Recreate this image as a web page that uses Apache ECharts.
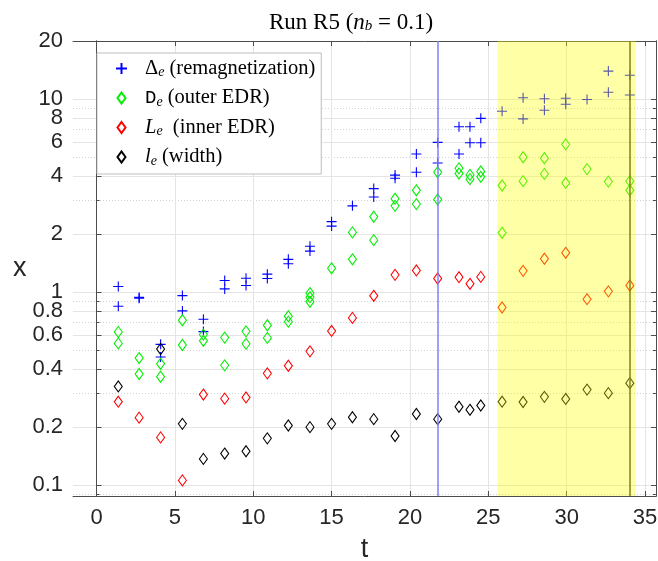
<!DOCTYPE html>
<html>
<head>
<meta charset="utf-8">
<title>Run R5</title>
<script src="https://cdn.jsdelivr.net/npm/echarts@6/dist/echarts.min.js"></script>
<style>
  html, body { margin: 0; padding: 0; background: #fff; }
  #main { width: 658px; height: 561px; }
</style>
</head>
<body>
<div id="main"></div>
<script>
// snapshot times
var times = [1.39, 2.72, 4.09, 5.48, 6.82, 8.18, 9.54, 10.9, 12.24, 13.62, 15.0, 16.33, 17.69,
  19.05, 20.41, 21.77, 23.13, 23.83, 24.52, 25.88, 27.22, 28.58, 29.94, 31.3, 32.66, 34.03];

// Delta_e (remagnetization), two estimates per snapshot
var deltaHi = [1.07, 0.94, 0.537, 0.96, 0.724, 1.15, 1.18, 1.24, 1.48, 1.73, 2.32, 2.8, 3.44,
  4.04, 5.2, 5.97, 7.19, 7.19, 7.95, 8.66, 10.17, 10.05, 10.1, 9.95, 13.97, 13.3];
var deltaLo = [0.846, 0.93, 0.462, 0.80, 0.625, 1.04, 1.083, 1.178, 1.405, 1.633, 2.2, null, 3.11,
  3.89, 4.18, 4.67, 5.2, 5.94, 5.94, null, 7.9, 8.76, 9.4, null, 10.85, 10.5];

// D_e (outer EDR)
var outerHi = [0.623, 0.456, 0.426, 0.716, 0.603, 0.582, 0.627, 0.674, 0.751, 0.99, 1.33, 2.04, 2.46,
  3.05, 3.37, 4.18, 4.38, 4.05, 4.22, 3.57, 5.0, 4.94, 5.83, 4.34, 3.74, 3.76];
var outerLo = [0.543, 0.377, 0.365, 0.533, 0.56, 0.418, 0.54, 0.58, 0.704, 0.892, null, 1.48, 1.86,
  2.8, 2.86, 3.02, 4.12, 3.85, 3.96, 2.03, 3.76, 4.1, 3.68, null, null, 3.37];
var outerMid = [null, null, null, null, null, null, null, null, null, 0.942, null, null, null,
  null, null, null, null, null, null, null, null, null, null, null, null, null];

// L_e (inner EDR)
var inner = [0.271, 0.224, 0.177, 0.106, 0.295, 0.281, 0.285, 0.38, 0.416, 0.494, 0.63, 0.736, 0.958,
  1.23, 1.296, 1.178, 1.196, 1.105, 1.2, 0.833, 1.29, 1.49, 1.6, 0.92, 1.01, 1.083];

// l_e (width)
var width = [0.325, null, 0.508, 0.208, 0.137, 0.146, 0.15, 0.175, 0.204, 0.2, 0.208, 0.225, 0.22,
  0.18, 0.234, 0.22, 0.255, 0.246, 0.259, 0.271, 0.27, 0.287, 0.28, 0.313, 0.3, 0.338];

// events: blue marker line, shaded interval, end line
var blueLineT = 21.77;
var endLineT = 34.03;
var bandT = [25.58, 34.41];

var xTicks = [0, 5, 10, 15, 20, 25, 30, 35];
var yMajor = [0.1, 0.2, 0.4, 0.6, 0.8, 1, 2, 4, 6, 8, 10, 20];
var yMinor = [0.09, 0.3, 0.5, 0.7, 0.9, 3, 5, 7, 9];

var legendText = {
  delta: '{g|\u0394}{s|e}{t| (remagnetization)}',
  outer: '{m|D}{s|e}{t| (outer EDR)}',
  inner: '{i|L}{s|e}{t|  (inner EDR)}',
  width: '{i|l}{s|e}{t| (width)}'
};

var X_MIN = -1.5, X_MAX = 35.7, Y_MIN = 0.088, Y_MAX = 20;
var CROSS = 'path://M5,0L5,10M0,5L10,5';
var DIAMOND = 'path://M4,0L8,5.5L4,11L0,5.5Z';
var SANS = 'Liberation Sans';
var SERIF = 'Liberation Serif';
var AXIS_COLOR = '#4d4d4d';

function pts (vals) {
  var out = [];
  for (var i = 0; i < times.length; i++) {
    if (vals[i] != null) out.push([times[i], vals[i]]);
  }
  return out;
}

function scatter (name, vals, symbol, color) {
  return {
    name: name,
    type: 'scatter',
    data: pts(vals),
    symbol: symbol,
    symbolSize: symbol === CROSS ? 10 : [8, 11],
    itemStyle: { color: 'rgba(0,0,0,0)', borderColor: color, borderWidth: 1.1, opacity: 1 },
    emphasis: { disabled: true },
    silent: true
  };
}

var series = [
  scatter('delta', deltaHi, CROSS, '#0000ff'),
  scatter('delta', deltaLo, CROSS, '#0000ff'),
  scatter('outer', outerHi, DIAMOND, '#00ee00'),
  scatter('outer', outerLo, DIAMOND, '#00ee00'),
  scatter('outer', outerMid, DIAMOND, '#00ee00'),
  scatter('inner', inner, DIAMOND, '#ff0000'),
  scatter('width', width, DIAMOND, '#000000')
];

series[0].markArea = {
  silent: true,
  z: 10,
  itemStyle: { color: 'rgba(255,255,0,0.35)' },
  data: [[{ xAxis: bandT[0] }, { xAxis: bandT[1] }]]
};
series[0].markLine = {
  silent: true,
  symbol: 'none',
  label: { show: false },
  animation: false,
  data: [
    { xAxis: blueLineT, lineStyle: { color: '#7f7fff', width: 1.5, type: 'solid' } },
    { xAxis: endLineT, lineStyle: { color: '#3f3f2a', width: 1.5, type: 'solid' } }
  ]
};

function yAxisDef (pos, ticks, tickLen, labels, grid, dotted) {
  return {
    type: 'log',
    position: pos,
    offset: 0,
    min: Y_MIN,
    max: Y_MAX,
    axisLine: { show: true, lineStyle: { color: AXIS_COLOR, width: 1 } },
    axisTick: { show: true, inside: true, length: tickLen, customValues: ticks, lineStyle: { color: AXIS_COLOR } },
    axisLabel: labels ? {
      show: true, customValues: ticks, margin: 10, color: '#262626',
      fontFamily: SANS, fontSize: 22,
      formatter: function (v) { return String(+v.toPrecision(3)); }
    } : { show: false },
    minorTick: { show: false },
    splitLine: grid ? {
      show: true,
      lineStyle: dotted ? { color: '#d0d0d0', type: [1, 2], width: 1 } : { color: '#e4e4e4', width: 1 }
    } : { show: false }
  };
}

var chart = echarts.init(document.getElementById('main'));
chart.setOption({
  animation: false,
  backgroundColor: '#ffffff',
  title: {
    text: '{r|Run R5 (}{i|n}{s|b}{r| = 0.1)}',
    left: 264,
    top: 6,
    textStyle: {
      rich: {
        r: { fontFamily: SERIF, fontSize: 23, fontWeight: 'normal', color: '#000' },
        i: { fontFamily: SERIF, fontSize: 23, fontWeight: 'normal', fontStyle: 'italic', color: '#000' },
        s: { fontFamily: SERIF, fontSize: 15, fontWeight: 'normal', fontStyle: 'italic', color: '#000', lineHeight: 8, verticalAlign: 'bottom' }
      }
    }
  },
  legend: {
    orient: 'vertical',
    left: 97,
    top: 53,
    padding: [5, 6, 6, 18],
    itemWidth: 37,
    itemHeight: 11,
    itemGap: 8,
    backgroundColor: '#ffffff',
    borderColor: '#bdbdbd',
    borderWidth: 1,
    borderRadius: 0,
    selectedMode: false,
    z: 20,
    data: [
      { name: 'delta', icon: CROSS },
      { name: 'outer', icon: DIAMOND },
      { name: 'inner', icon: DIAMOND },
      { name: 'width', icon: DIAMOND }
    ],
    formatter: function (name) { return legendText[name]; },
    textStyle: {
      rich: {
        t: { fontFamily: SERIF, fontSize: 20.5, lineHeight: 22, color: '#000' },
        g: { fontFamily: SERIF, fontSize: 20.5, lineHeight: 22, color: '#000' },
        i: { fontFamily: SERIF, fontSize: 20.5, lineHeight: 22, fontStyle: 'italic', color: '#000' },
        m: { fontFamily: 'Liberation Mono', fontSize: 19, lineHeight: 22, color: '#000' },
        s: { fontFamily: SERIF, fontSize: 14, fontStyle: 'italic', lineHeight: 8, verticalAlign: 'bottom', color: '#000' }
      }
    }
  },
  grid: { left: 73, right: 2, top: 41, bottom: 65, containLabel: false, outerBoundsMode: 'none' },
  xAxis: [
    {
      type: 'value', position: 'bottom', min: X_MIN, max: X_MAX,
      name: 't', nameLocation: 'middle', nameGap: 40,
      nameTextStyle: { fontFamily: SANS, fontSize: 27, color: '#262626' },
      axisLine: { show: true, onZero: false, lineStyle: { color: AXIS_COLOR, width: 1 } },
      axisTick: { show: true, inside: true, length: 5, customValues: xTicks, lineStyle: { color: AXIS_COLOR } },
      axisLabel: { show: true, customValues: xTicks, margin: 11, color: '#262626', fontFamily: SANS, fontSize: 22 },
      splitLine: { show: true, lineStyle: { color: '#e4e4e4', width: 1 } }
    },
    {
      type: 'value', position: 'top', min: X_MIN, max: X_MAX,
      axisLine: { show: true, onZero: false, lineStyle: { color: AXIS_COLOR, width: 1 } },
      axisTick: { show: true, inside: true, length: 5, customValues: xTicks, lineStyle: { color: AXIS_COLOR } },
      axisLabel: { show: false },
      splitLine: { show: false }
    }
  ],
  yAxis: [
    Object.assign(yAxisDef('left', yMajor, 5, true, true, false), {
      name: 'x', nameLocation: 'middle', nameGap: 40, nameRotate: 0,
      nameTextStyle: { fontFamily: SANS, fontSize: 27, color: '#262626' }
    }),
    yAxisDef('left', yMinor, 3, false, true, true),
    yAxisDef('right', yMajor, 5, false, false, false),
    yAxisDef('right', yMinor, 3, false, false, false)
  ],
  series: series
});
</script>
</body>
</html>
